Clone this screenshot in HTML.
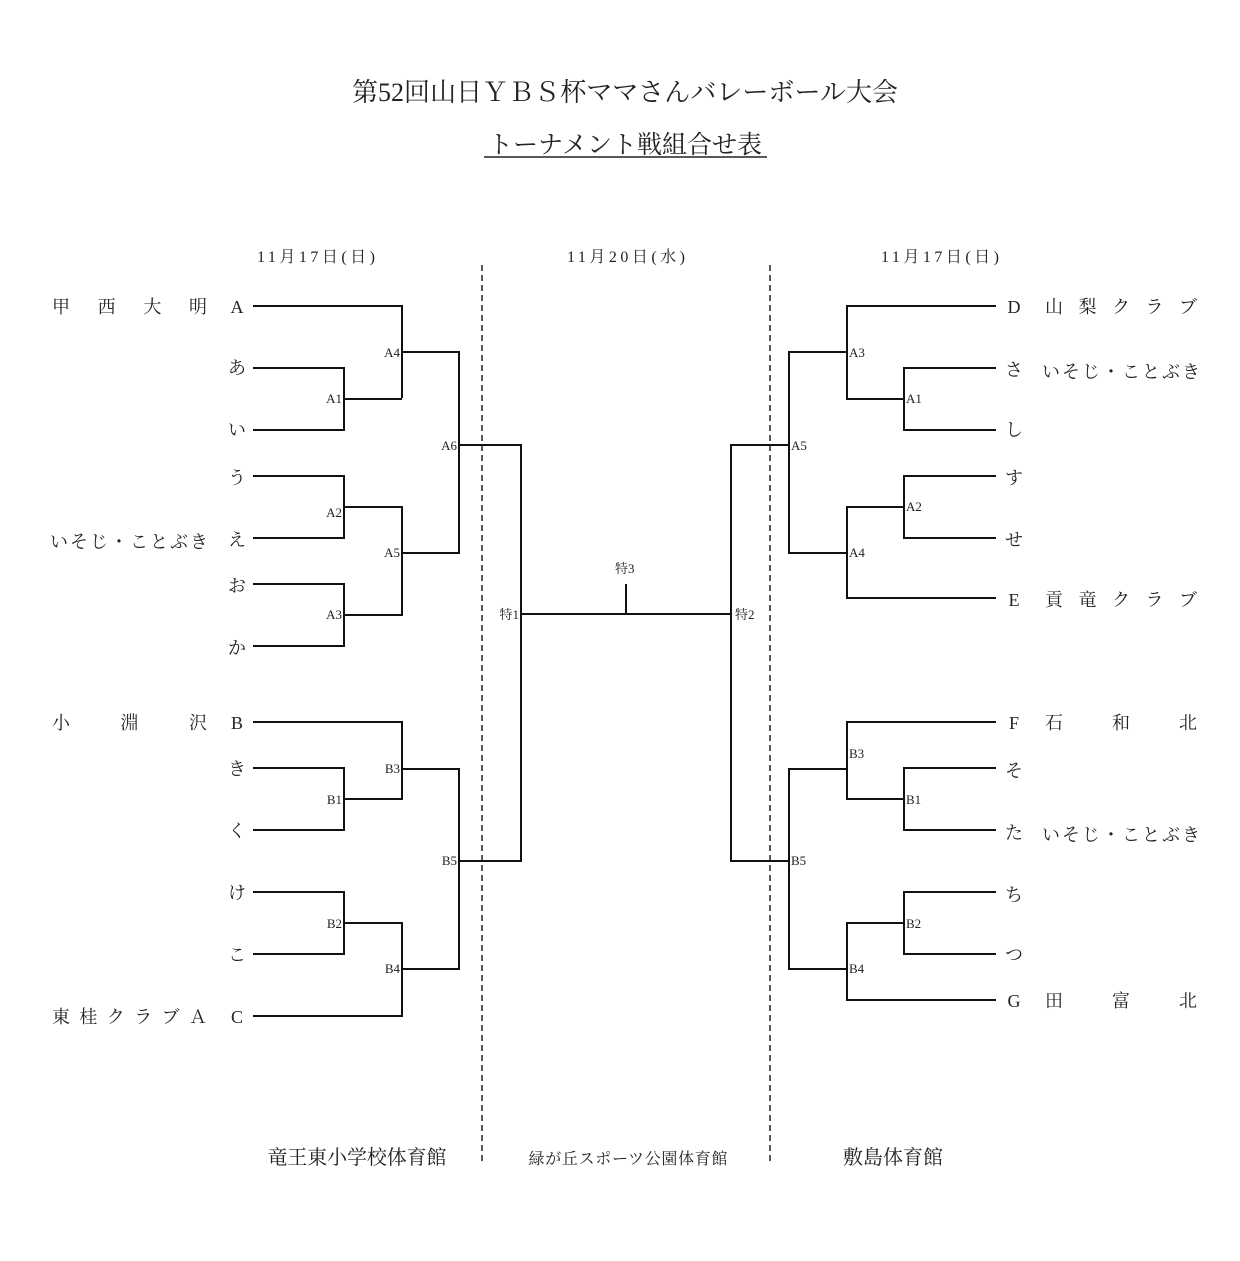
<!DOCTYPE html>
<html><head><meta charset="utf-8"><style>
body{margin:0;background:#fff}
svg{display:block}
text{font-family:"Liberation Serif","Noto Serif CJK SC","Noto Sans CJK JP",serif;fill:#222}
.s{font-size:13px}
.n{font-size:18px}
</style></head><body>
<svg width="1240" height="1261" viewBox="0 0 1240 1261" xmlns="http://www.w3.org/2000/svg">
<text x="625" y="101" font-size="26" text-anchor="middle" textLength="546" lengthAdjust="spacing">第52回山日ＹＢＳ杯ママさんバレーボール大会</text>
<text x="625" y="153" font-size="25" text-anchor="middle">トーナメント戦組合せ表</text>
<line x1="484" y1="157" x2="767" y2="157" stroke="#222" stroke-width="1.5"/>
<text x="316" y="262" font-size="16" text-anchor="middle" textLength="118" lengthAdjust="spacing">11月17日(日)</text>
<text x="626" y="262" font-size="16" text-anchor="middle" textLength="118" lengthAdjust="spacing">11月20日(水)</text>
<text x="940" y="262" font-size="16" text-anchor="middle" textLength="118" lengthAdjust="spacing">11月17日(日)</text>
<g stroke="#222" stroke-width="1.5" stroke-dasharray="6,4">
<line x1="482" y1="265" x2="482" y2="1165"/><line x1="770" y1="265" x2="770" y2="1165"/></g>
<g fill="none" stroke="#111" stroke-width="2">
<path d="M253 306H402V398M253 368H344V430H253M344 399H402M402 352H459V553H402V507H344M253 476H344V538H253M402 553V615H344M253 584H344V646H253"/>
<path d="M459 445H521V861H459M521 614H731M626 584V614"/>
<path d="M253 722H402V799H344M253 768H344V830H253M402 769H459V969H402V923H344M253 892H344V954H253M402 969V1016H253"/>
<path d="M996 306H847V399H904M996 368H904V430H996M847 352H789V553H847V507H904M996 476H904V538H996M847 553V598H996"/>
<path d="M789 445H731V861H789"/>
<path d="M996 722H847V799H904M996 768H904V830H996M847 769H789V969H847V923H904M996 892H904V954H996M847 969V1000H996"/>
</g>
<g class="s" text-anchor="end">
<text x="342" y="403">A1</text><text x="400" y="357">A4</text><text x="342" y="517">A2</text><text x="400" y="557">A5</text><text x="342" y="619">A3</text><text x="457" y="450">A6</text>
<text x="342" y="804">B1</text><text x="400" y="773">B3</text><text x="342" y="928">B2</text><text x="400" y="973">B4</text><text x="457" y="865">B5</text>
<text x="519" y="619">特1</text>
</g>
<g class="s">
<text x="906" y="403">A1</text><text x="849" y="357">A3</text><text x="906" y="511">A2</text><text x="849" y="557">A4</text><text x="791" y="450">A5</text>
<text x="906" y="804">B1</text><text x="849" y="758">B3</text><text x="906" y="928">B2</text><text x="849" y="973">B4</text><text x="791" y="865">B5</text>
<text x="735" y="619">特2</text><text x="615" y="573">特3</text>
</g>
<g class="n" text-anchor="middle">
<text x="237" y="313">A</text><text x="237" y="374">あ</text><text x="237" y="436">い</text><text x="237" y="484">う</text><text x="237" y="546">え</text><text x="237" y="592">お</text><text x="237" y="654">か</text>
<text x="237" y="729">B</text><text x="237" y="775">き</text><text x="237" y="837">く</text><text x="237" y="899">け</text><text x="237" y="961">こ</text><text x="237" y="1023">C</text>
<text x="1014" y="313">D</text><text x="1014" y="376">さ</text><text x="1014" y="436">し</text><text x="1014" y="484">す</text><text x="1014" y="546">せ</text><text x="1014" y="606">E</text>
<text x="1014" y="729">F</text><text x="1014" y="777">そ</text><text x="1014" y="839">た</text><text x="1014" y="901">ち</text><text x="1014" y="961">つ</text><text x="1014" y="1007">G</text>
</g>
<g class="n">
<text x="52" y="313" textLength="155" lengthAdjust="spacing">甲　西　大　明</text>
<text x="50" y="548" textLength="158" lengthAdjust="spacing">いそじ・ことぶき</text>
<text x="52" y="729" textLength="155" lengthAdjust="spacing">小　　淵　　沢</text>
<text x="52" y="1023" textLength="155" lengthAdjust="spacing">東桂クラブＡ</text>
<text x="1045" y="313" textLength="152" lengthAdjust="spacing">山　梨　ク　ラ　ブ</text>
<text x="1042" y="378" textLength="158" lengthAdjust="spacing">いそじ・ことぶき</text>
<text x="1045" y="606" textLength="152" lengthAdjust="spacing">貢　竜　ク　ラ　ブ</text>
<text x="1045" y="729" textLength="152" lengthAdjust="spacing">石　　和　　北</text>
<text x="1042" y="841" textLength="158" lengthAdjust="spacing">いそじ・ことぶき</text>
<text x="1045" y="1007" textLength="152" lengthAdjust="spacing">田　　富　　北</text>
</g>
<text x="357" y="1164" font-size="20" text-anchor="middle" textLength="179" lengthAdjust="spacing">竜王東小学校体育館</text>
<text x="628" y="1164" font-size="16" text-anchor="middle" textLength="199" lengthAdjust="spacing">緑が丘スポーツ公園体育館</text>
<text x="893" y="1164" font-size="20" text-anchor="middle">敷島体育館</text>
</svg>
</body></html>
